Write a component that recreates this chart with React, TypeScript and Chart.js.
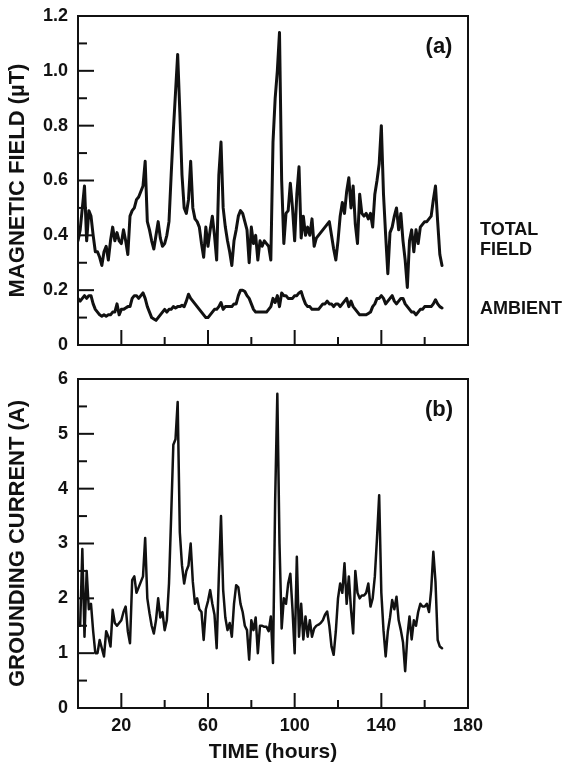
import React, { useEffect, useRef } from "react";
import { Chart, registerables } from "chart.js";
Chart.register(...registerables);

const FONT = "'Liberation Sans', Arial, Helvetica, sans-serif";
const INK = "#111111";

// time axis (hours)
const hours = Array.from({ length: 169 }, (_, i) => i);

// (a) magnetic field, µT
const totalField = [
  0.38, 0.42, 0.50, 0.58, 0.38, 0.49, 0.47, 0.40, 0.34, 0.34,
  0.32, 0.29, 0.34, 0.36, 0.31, 0.38, 0.43, 0.38, 0.41, 0.38,
  0.37, 0.42, 0.38, 0.33, 0.47, 0.49, 0.50, 0.53, 0.54, 0.56,
  0.58, 0.67, 0.45, 0.42, 0.38, 0.35, 0.40, 0.45, 0.39, 0.36,
  0.37, 0.40, 0.45, 0.62, 0.78, 0.92, 1.06, 0.85, 0.62, 0.50,
  0.48, 0.53, 0.67, 0.50, 0.46, 0.45, 0.43, 0.37, 0.32, 0.43,
  0.36, 0.42, 0.47, 0.40, 0.31, 0.62, 0.74, 0.50, 0.43, 0.38,
  0.34, 0.29, 0.38, 0.42, 0.47, 0.49, 0.48, 0.45, 0.42, 0.30,
  0.43, 0.37, 0.40, 0.31, 0.38, 0.36, 0.38, 0.37, 0.36, 0.31,
  0.74, 0.90, 1.00, 1.14, 0.60, 0.37, 0.48, 0.49, 0.59, 0.50,
  0.38, 0.55, 0.65, 0.39, 0.47, 0.40, 0.43, 0.40, 0.46, 0.36,
  0.39, 0.40, 0.41, 0.42, 0.43, 0.44, 0.45, 0.40, 0.35, 0.31,
  0.38, 0.47, 0.52, 0.48, 0.56, 0.61, 0.50, 0.58, 0.44, 0.37,
  0.55, 0.48, 0.47, 0.48, 0.46, 0.48, 0.43, 0.55, 0.60, 0.66,
  0.80, 0.55, 0.40, 0.26, 0.41, 0.43, 0.47, 0.50, 0.42, 0.48,
  0.38, 0.31, 0.21, 0.38, 0.42, 0.34, 0.42, 0.37, 0.43, 0.44,
  0.45, 0.45, 0.46, 0.47, 0.53, 0.58, 0.45, 0.33, 0.29,
];

const ambient = [
  0.17, 0.16, 0.17, 0.18, 0.17, 0.18, 0.18, 0.15, 0.13, 0.12,
  0.11, 0.105, 0.11, 0.105, 0.11, 0.11, 0.12, 0.12, 0.15, 0.11,
  0.13, 0.13, 0.135, 0.14, 0.14, 0.17, 0.18, 0.18, 0.17, 0.18,
  0.19, 0.17, 0.14, 0.12, 0.10, 0.095, 0.09, 0.10, 0.11, 0.12,
  0.13, 0.12, 0.13, 0.13, 0.14, 0.135, 0.14, 0.14, 0.145, 0.14,
  0.16, 0.185, 0.17, 0.16, 0.15, 0.14, 0.13, 0.12, 0.11, 0.10,
  0.10, 0.11, 0.12, 0.13, 0.13, 0.14, 0.155, 0.13, 0.14, 0.14,
  0.14, 0.14, 0.15, 0.15, 0.18, 0.20, 0.20, 0.195, 0.18, 0.17,
  0.15, 0.13, 0.12, 0.12, 0.12, 0.12, 0.12, 0.12, 0.13, 0.14,
  0.17, 0.155, 0.18, 0.14, 0.19, 0.18, 0.18, 0.17, 0.17, 0.17,
  0.18, 0.18, 0.19, 0.195, 0.17, 0.15, 0.14, 0.14, 0.13, 0.13,
  0.13, 0.13, 0.14, 0.15, 0.15, 0.16, 0.15, 0.15, 0.14, 0.15,
  0.15, 0.14, 0.15, 0.16, 0.17, 0.14, 0.16, 0.14, 0.13, 0.12,
  0.11, 0.11, 0.11, 0.11, 0.115, 0.12, 0.14, 0.15, 0.17, 0.17,
  0.18, 0.17, 0.15, 0.16, 0.17, 0.18, 0.16, 0.15, 0.16, 0.17,
  0.17, 0.15, 0.14, 0.13, 0.12, 0.12, 0.11, 0.12, 0.13, 0.13,
  0.14, 0.14, 0.14, 0.14, 0.15, 0.165, 0.15, 0.14, 0.135,
];

// (b) grounding current, A
const groundingCurrent = [
  1.5, 1.5, 2.9, 1.3, 2.5, 1.8, 1.9, 1.4, 1.0, 1.0,
  1.24, 1.09, 0.94, 1.4, 1.3, 1.12, 1.79, 1.55, 1.5, 1.55,
  1.6, 1.75, 1.85, 1.4, 1.18, 2.33, 2.4, 2.1, 2.2, 2.3,
  2.4, 3.1, 2.0, 1.73, 1.5, 1.36, 1.6, 2.0, 1.65, 1.75,
  1.42, 1.6, 2.27, 3.5, 4.8, 4.9, 5.58, 3.2, 2.6, 2.27,
  2.5, 2.6, 3.0, 2.3, 1.9, 2.0, 1.8, 1.75, 1.24, 1.8,
  1.95, 2.15, 1.9, 1.7, 1.09, 2.4, 3.5, 2.15, 1.65, 1.42,
  1.55, 1.3, 1.9, 2.24, 2.2, 1.9, 1.75, 1.5, 1.42, 0.88,
  1.6, 1.42, 1.65, 1.0, 1.5, 1.5, 1.48, 1.48, 1.4, 1.67,
  0.82, 3.8, 5.73, 3.0, 1.45, 2.0, 1.9, 2.27, 2.45, 1.8,
  1.0, 2.76, 1.3, 1.9, 1.25, 1.67, 1.3, 1.6, 1.3, 1.45,
  1.5, 1.52, 1.55, 1.6, 1.7, 1.76, 1.5, 1.12, 0.97, 1.4,
  2.0, 2.27, 2.1, 2.64, 1.9, 2.4, 1.8, 1.36, 2.5, 2.1,
  2.0, 2.05, 2.05, 2.1, 2.27, 1.85, 2.0, 2.4, 3.1, 3.88,
  2.1, 1.42, 0.94, 1.4, 1.65, 1.97, 1.8, 2.03, 1.6, 1.42,
  1.2, 0.67, 1.3, 1.67, 1.25, 1.6, 1.5, 1.75, 1.9, 1.85,
  1.85, 1.9, 1.75, 2.15, 2.85, 2.3, 1.24, 1.12, 1.09,
];

// ticks
const xTickValues = [0, 20, 40, 60, 80, 100, 120, 140, 160, 180];
const xTickLabels = [20, 60, 100, 140, 180];
const xMajorMarks = [20, 60, 100, 140];
const xMinorMarks = [40, 80, 120, 160];

const fieldTickLabels = [0, 0.2, 0.4, 0.6, 0.8, 1.0, 1.2];
const fieldMajorMarks = [0.2, 0.4, 0.6, 0.8, 1.0];
const fieldMinorMarks = [0.1, 0.3, 0.5, 0.7, 0.9, 1.1];

const currentTickLabels = [0, 1, 2, 3, 4, 5, 6];
const currentMajorMarks = [1, 2, 3, 4, 5];
const currentMinorMarks = [0.5, 1.5, 2.5, 3.5, 4.5, 5.5];

type Series = { values: number[]; width: number };
type Note = { text: string; value: number };

type PanelProps = {
  top: number;
  height: number;
  padTop: number;
  xHeight: number;
  showXLabels: boolean;
  yMax: number;
  yLabels: number[];
  yMajor: number[];
  yMinor: number[];
  yFormat: (v: number) => string;
  yTitle: string;
  tag: string;
  series: Series[];
  notes: Note[];
};

function Panel(p: PanelProps) {
  const ref = useRef<HTMLCanvasElement>(null);
  useEffect(() => {
    const canvas = ref.current;
    if (!canvas) return;
    const framePlugin = {
      id: "frame",
      afterDatasetsDraw(chart: any) {
        const { ctx, chartArea: a, scales } = chart;
        const xs = scales.x;
        const ys = scales.y;
        ctx.save();
        ctx.strokeStyle = INK;
        ctx.lineWidth = 2;
        ctx.lineCap = "butt";
        ctx.strokeRect(a.left, a.top, a.right - a.left, a.bottom - a.top);
        const seg = (x1: number, y1: number, x2: number, y2: number) => {
          ctx.beginPath();
          ctx.moveTo(x1, y1);
          ctx.lineTo(x2, y2);
          ctx.stroke();
        };
        p.yMajor.forEach((v) => {
          const y = ys.getPixelForValue(v);
          seg(a.left, y, a.left + 16, y);
        });
        p.yMinor.forEach((v) => {
          const y = ys.getPixelForValue(v);
          seg(a.left, y, a.left + 9, y);
        });
        xMajorMarks.forEach((v) => {
          const x = xs.getPixelForValue(v);
          seg(x, a.bottom, x, a.bottom - 15);
        });
        xMinorMarks.forEach((v) => {
          const x = xs.getPixelForValue(v);
          seg(x, a.bottom, x, a.bottom - 8);
        });
        ctx.fillStyle = INK;
        ctx.textBaseline = "middle";
        ctx.textAlign = "center";
        ctx.font = `bold 22px ${FONT}`;
        ctx.fillText(p.tag, a.right - 29, a.top + 31);
        ctx.textAlign = "left";
        ctx.font = `bold 18px ${FONT}`;
        p.notes.forEach((n) => {
          ctx.fillText(n.text, a.right + 12, ys.getPixelForValue(n.value));
        });
        ctx.restore();
      },
    };
    const tickFont = { family: FONT, size: 18, weight: "bold" as const };
    const chart = new Chart(canvas, {
      type: "line",
      data: {
        datasets: p.series.map((s) => ({
          data: hours.map((h, i) => ({ x: h, y: s.values[i] })),
          borderColor: INK,
          borderWidth: s.width,
          pointRadius: 0,
          tension: 0,
          fill: false,
          borderJoinStyle: "round" as const,
          borderCapStyle: "round" as const,
        })),
      },
      options: {
        responsive: false,
        animation: false,
        devicePixelRatio: 1,
        layout: { padding: { top: p.padTop, right: 94, bottom: 0, left: 0 } },
        plugins: { legend: { display: false }, tooltip: { enabled: false } },
        scales: {
          x: {
            type: "linear",
            min: 0,
            max: 180,
            afterBuildTicks: (s: any) => {
              s.ticks = xTickValues.map((v) => ({ value: v }));
            },
            afterFit: (s: any) => {
              s.height = p.xHeight;
              s.paddingLeft = 0;
              s.paddingRight = 0;
            },
            ticks: {
              display: p.showXLabels,
              autoSkip: false,
              maxRotation: 0,
              padding: 7,
              color: INK,
              font: tickFont,
              callback: (v: any) => (xTickLabels.includes(Number(v)) ? String(v) : ""),
            },
            grid: { display: false, drawTicks: false },
            border: { display: false },
            title: {
              display: p.showXLabels,
              text: "TIME (hours)",
              color: INK,
              font: { family: FONT, size: 21, weight: "bold" },
              padding: { top: 0, bottom: 0 },
            },
          },
          y: {
            type: "linear",
            min: 0,
            max: p.yMax,
            afterBuildTicks: (s: any) => {
              s.ticks = p.yLabels.map((v) => ({ value: v }));
            },
            afterFit: (s: any) => {
              s.width = 78;
              s.paddingTop = 0;
              s.paddingBottom = 0;
            },
            ticks: {
              padding: 10,
              color: INK,
              font: tickFont,
              callback: (v: any) => p.yFormat(Number(v)),
            },
            grid: { display: false, drawTicks: false },
            border: { display: false },
            title: {
              display: true,
              text: p.yTitle,
              color: INK,
              font: { family: FONT, size: 22, weight: "bold" },
              padding: { top: 5, bottom: 0 },
            },
          },
        },
      },
      plugins: [framePlugin],
    } as any);
    return () => chart.destroy();
  }, []);
  return (
    <canvas
      ref={ref}
      width={562}
      height={p.height}
      style={{ position: "absolute", left: 0, top: p.top, width: 562, height: p.height, display: "block" }}
    />
  );
}

export default function App() {
  return (
    <div style={{ position: "absolute", left: 0, top: 0, width: 562, height: 765, background: "#fff" }}>
      <Panel
        top={0}
        height={365}
        padTop={16}
        xHeight={20}
        showXLabels={false}
        yMax={1.2}
        yLabels={fieldTickLabels}
        yMajor={fieldMajorMarks}
        yMinor={fieldMinorMarks}
        yFormat={(v) => (v === 0 ? "0" : v.toFixed(1))}
        yTitle="MAGNETIC FIELD (µT)"
        tag="(a)"
        series={[
          { values: totalField, width: 3 },
          { values: ambient, width: 3 },
        ]}
        notes={[
          { text: "TOTAL", value: 0.418 },
          { text: "FIELD", value: 0.348 },
          { text: "AMBIENT", value: 0.133 },
        ]}
      />
      <Panel
        top={365}
        height={400}
        padTop={14}
        xHeight={57}
        showXLabels={true}
        yMax={6}
        yLabels={currentTickLabels}
        yMajor={currentMajorMarks}
        yMinor={currentMinorMarks}
        yFormat={(v) => String(v)}
        yTitle="GROUNDING CURRENT (A)"
        tag="(b)"
        series={[{ values: groundingCurrent, width: 2.5 }]}
        notes={[]}
      />
    </div>
  );
}
